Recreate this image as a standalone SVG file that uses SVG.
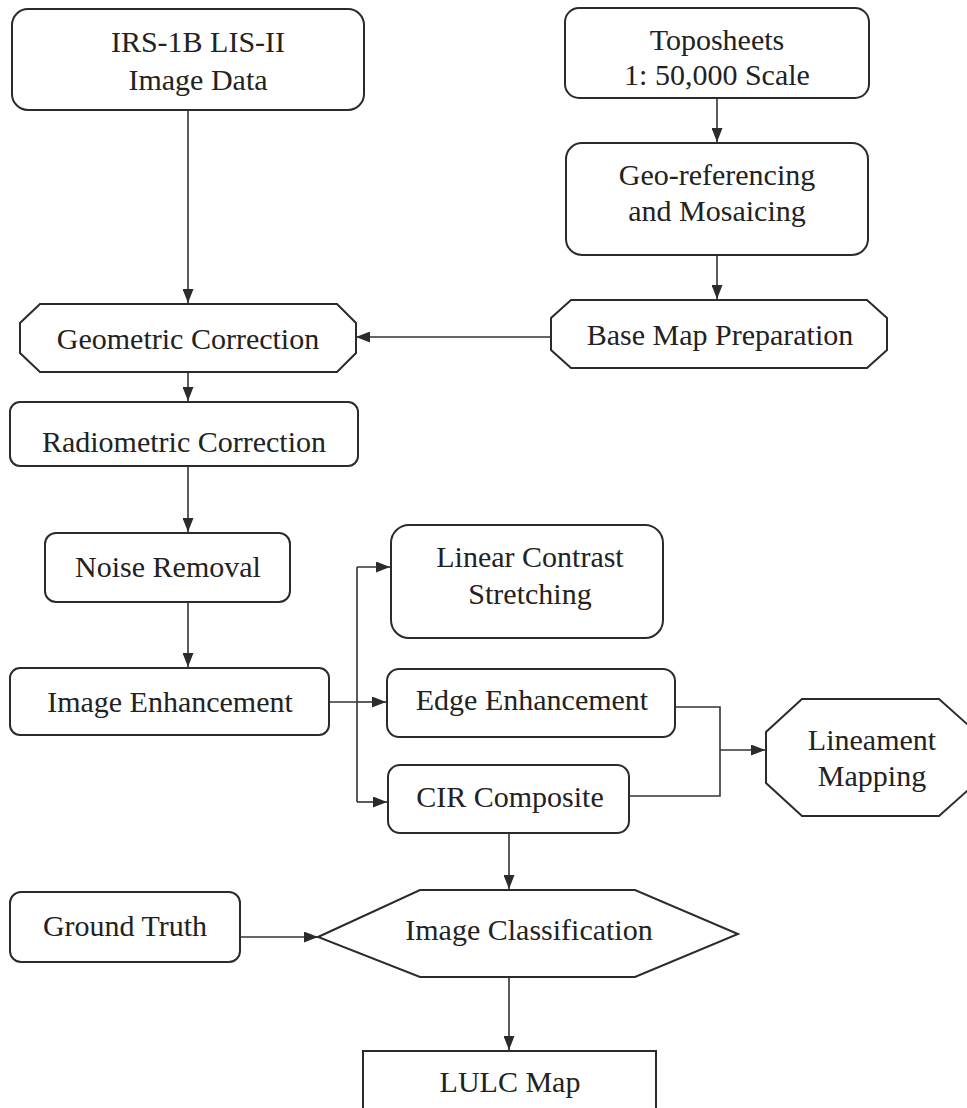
<svg xmlns="http://www.w3.org/2000/svg" width="967" height="1108" viewBox="0 0 967 1108">
  <style>
    .box { fill: #ffffff; stroke: #2b2b2b; stroke-width: 2; }
    .lbl { font-family: "Liberation Serif", "Times New Roman", serif; font-size: 30px; fill: #222222; text-anchor: middle; }
    .wire { fill: none; stroke: #333333; stroke-width: 1.6; }
  </style>
  <defs>
    <marker id="arrow" viewBox="0 0 14 11" refX="14" refY="5.5" markerWidth="14" markerHeight="11" markerUnits="userSpaceOnUse" orient="auto">
      <path d="M0,0 L14,5.5 L0,11 Z" fill="#2b2b2b"/>
    </marker>
  </defs>
  <rect width="967" height="1108" fill="#ffffff"/>

  <!-- connectors -->
  <g id="connectors">
    <path class="wire" d="M188,110 V303" marker-end="url(#arrow)"/>
    <path class="wire" d="M717,98 V142" marker-end="url(#arrow)"/>
    <path class="wire" d="M717,255 V299" marker-end="url(#arrow)"/>
    <path class="wire" d="M551,337 H356" marker-end="url(#arrow)"/>
    <path class="wire" d="M188,372 V401" marker-end="url(#arrow)"/>
    <path class="wire" d="M188,466 V532" marker-end="url(#arrow)"/>
    <path class="wire" d="M188,602 V667" marker-end="url(#arrow)"/>
    <path class="wire" d="M329,702 H357 M357,567 V802"/>
    <path class="wire" d="M357,567 H390" marker-end="url(#arrow)"/>
    <path class="wire" d="M357,702 H386" marker-end="url(#arrow)"/>
    <path class="wire" d="M357,802 H387" marker-end="url(#arrow)"/>
    <path class="wire" d="M675,707 H720 V796 H629"/>
    <path class="wire" d="M720,750 H765" marker-end="url(#arrow)"/>
    <path class="wire" d="M509,833 V889" marker-end="url(#arrow)"/>
    <path class="wire" d="M240,937 H318" marker-end="url(#arrow)"/>
    <path class="wire" d="M509,977 V1050" marker-end="url(#arrow)"/>
  </g>

  <g id="irs-data">
    <rect class="box" x="12" y="9" width="352" height="101" rx="16"/>
    <text class="lbl" x="198" y="52">IRS-1B LIS-II</text>
    <text class="lbl" x="198" y="90">Image Data</text>
  </g>

  <g id="toposheets">
    <rect class="box" x="565" y="8" width="304" height="90" rx="14"/>
    <text class="lbl" x="717" y="50">Toposheets</text>
    <text class="lbl" x="717" y="85">1: 50,000 Scale</text>
  </g>

  <g id="georef">
    <rect class="box" x="566" y="143" width="302" height="112" rx="16"/>
    <text class="lbl" x="717" y="185">Geo-referencing</text>
    <text class="lbl" x="717" y="221">and Mosaicing</text>
  </g>

  <g id="basemap">
    <polygon class="box" points="571,300 867,300 887,318 887,350 867,368 571,368 551,350 551,318"/>
    <text class="lbl" x="720" y="345">Base Map Preparation</text>
  </g>

  <g id="geometric">
    <polygon class="box" points="40,304 337,304 356,323 356,353 337,372 40,372 20,353 20,323"/>
    <text class="lbl" x="188" y="349">Geometric Correction</text>
  </g>

  <g id="radiometric">
    <rect class="box" x="10" y="402" width="348" height="64" rx="10"/>
    <text class="lbl" x="184" y="452">Radiometric Correction</text>
  </g>

  <g id="noise">
    <rect class="box" x="45" y="533" width="245" height="69" rx="11"/>
    <text class="lbl" x="168" y="577">Noise Removal</text>
  </g>

  <g id="enhancement">
    <rect class="box" x="10" y="668" width="319" height="67" rx="10"/>
    <text class="lbl" x="170" y="712">Image Enhancement</text>
  </g>

  <g id="linear-stretch">
    <rect class="box" x="391" y="525" width="272" height="113" rx="18"/>
    <text class="lbl" x="530" y="567">Linear Contrast</text>
    <text class="lbl" x="530" y="604">Stretching</text>
  </g>

  <g id="edge">
    <rect class="box" x="387" y="669" width="288" height="68" rx="12"/>
    <text class="lbl" x="532" y="710">Edge Enhancement</text>
  </g>

  <g id="cir">
    <rect class="box" x="388" y="765" width="241" height="68" rx="12"/>
    <text class="lbl" x="510" y="807">CIR Composite</text>
  </g>

  <g id="lineament">
    <polygon class="box" points="802,699 939,699 976,732 976,783 939,816 802,816 766,783 766,732"/>
    <text class="lbl" x="872" y="750">Lineament</text>
    <text class="lbl" x="872" y="786">Mapping</text>
  </g>

  <g id="ground-truth">
    <rect class="box" x="10" y="892" width="230" height="70" rx="11"/>
    <text class="lbl" x="125" y="936">Ground Truth</text>
  </g>

  <g id="classification">
    <polygon class="box" points="318,937 420,890 635,890 738,934 635,977 420,977"/>
    <text class="lbl" x="529" y="940">Image Classification</text>
  </g>

  <g id="lulc">
    <path class="box" d="M363,1110 V1051 H656 V1110"/>
    <text class="lbl" x="510" y="1092">LULC Map</text>
  </g>
</svg>
